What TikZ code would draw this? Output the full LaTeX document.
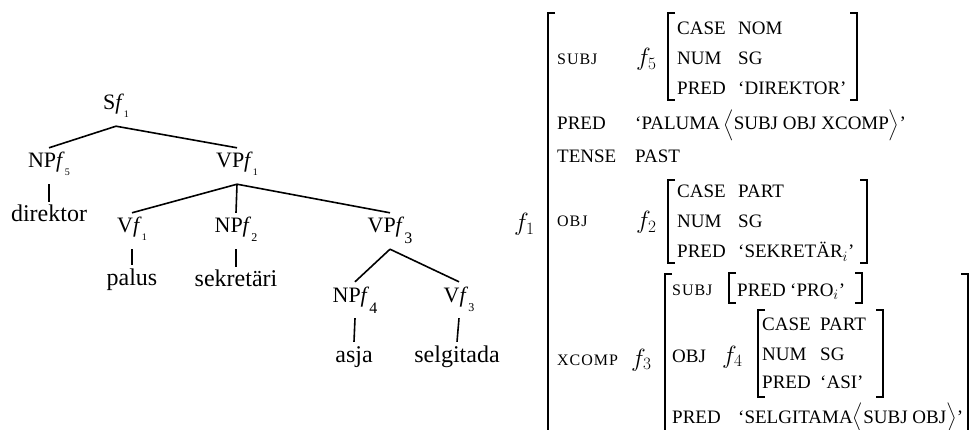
\documentclass[tikz,border=0pt]{standalone}
\usepackage{amsmath}
\usepackage[no-math]{fontspec}
\setmainfont{Liberation Serif}
\newfontfamily\attrfont[LetterSpace=6]{Liberation Serif}
\usepackage{tikz}

% f con pedice nell'albero: dimensione, abbassamento, cifra
\newcommand{\fn}[3]{\textit{f}{\fontsize{#1}{#1}\selectfont\raisebox{-#2pt}{#3}}}

\begin{document}
\begin{tikzpicture}[x=1pt,y=-1pt]
\tikzstyle{cat} = [font=\fontsize{22}{26}\selectfont, anchor=base, text height=16pt, text depth=12pt, inner ysep=4pt, inner xsep=0pt]
\tikzstyle{parola} = [font=\fontsize{24}{28}\selectfont, anchor=base, text height=16pt, text depth=4pt, inner ysep=4pt, inner xsep=0pt]
\tikzstyle{ramo} = [line width=1.6pt]
\tikzstyle{av} = [font=\fontsize{19}{23}\selectfont, anchor=base west, inner sep=0pt]
\tikzstyle{avs} = [font=\fontsize{16}{19}\attrfont, anchor=base west, inner sep=0pt]
\tikzstyle{fs} = [font=\fontsize{23}{27}\selectfont, anchor=base west, inner sep=0pt]
\tikzstyle{par} = [line width=1.1pt]

\useasboundingbox (0,0) rectangle (974,430);

% --- Albero ---------------------------------------------------------
\node[cat] (S)   at (116,110) {S\fn{10}{8}{1}};
\node[cat] (NP5) at (49,168)  {NP\fn{10}{8}{5}};
\node[cat] (VP1) at (237,168) {VP\fn{10}{8}{1}};
\node[cat] (V1)  at (132,233) {V\fn{10}{8}{1}};
\node[cat] (NP2) at (236,233) {NP\fn{12}{9}{2}};
\node[cat] (VP3) at (390,233) {VP\fn{16}{11}{3}};
\node[cat] (NP4) at (355,302) {NP\fn{16}{11}{4}};
\node[cat] (V3)  at (459,302) {V\fn{12}{9}{3}};

% parole
\node[parola] (w1) at (49,222)  {direktor};
\node[parola] (w2) at (132,285) {palus};
\node[parola] (w3) at (236,287) {sekretäri};
\node[parola] (w4) at (354,362) {asja};
\node[parola] (w5) at (457,362) {selgitada};

\foreach \a/\b in {S/NP5, S/VP1, VP1/V1, VP1/NP2, VP1/VP3, VP3/NP4, VP3/V3,
                   NP5/w1, V1/w2, NP2/w3, NP4/w4, V3/w5} {
  \draw[ramo] (\a.south) -- (\b.north);
}

% --- Struttura f ----------------------------------------------------
\node[fs] (f1) at (514,231) {$f_1$};

\node[avs] (a-subj)  at (557,65)  {SUBJ};
\node[av]  (a-pred)  at (557,130) {PRED};
\node[av]  (a-tense) at (557,163) {TENSE};
\node[avs] (a-obj)   at (557,227) {OBJ};
\node[avs] (a-xcomp) at (557,365) {XCOMP};

\node[fs] (f5) at (636,66)  {$f_5$};
\node[av] (v-pred)  at (635,130) {‘PALUMA\,$\Big\langle$SUBJ OBJ XCOMP$\Big\rangle$’};
\node[av] (v-tense) at (635,163) {PAST};
\node[fs] (f2) at (636,229) {$f_2$};
\node[fs] (f3) at (631,366) {$f_3$};

% f5
\foreach \r/\k/\v/\y in {1/CASE/NOM/35, 2/NUM/SG/65, 3/PRED/{‘DIREKTOR’}/95} {
  \node[av] (k5-\r) at (677,\y) {\k};
  \node[av] (v5-\r) at (738,\y) {\v};
}

% f2
\foreach \r/\k/\v/\y in {1/CASE/PART/198, 2/NUM/SG/228, 3/PRED/{‘SEKRETÄR$_i$’}/258} {
  \node[av] (k2-\r) at (677,\y) {\k};
  \node[av] (v2-\r) at (738,\y) {\v};
}

% f3
\node[avs] (x-subj)  at (672,295) {SUBJ};
\node[av]  (x-pred)  at (737,296) {PRED};
\node[av]  (x-pro)   at (790,296) {‘PRO$_i$’};
\node[av]  (x-obj)   at (672,362) {OBJ};
\node[fs]  (f4)      at (722,363) {$f_4$};
\node[av]  (x-pred2) at (672,423) {PRED};
\node[av]  (x-sel)   at (738,423) {‘SELGITAMA$\Big\langle$SUBJ OBJ$\Big\rangle$’};

% f4
\foreach \r/\k/\v/\y in {1/CASE/PART/330, 2/NUM/SG/360, 3/PRED/{‘ASI’}/388} {
  \node[av] (k4-\r) at (762,\y) {\k};
  \node[av] (v4-\r) at (820,\y) {\v};
}

% parentesi quadre: sinistra/destra/alto/basso
\draw[par] (555,13) -- (548,13) -- (548,440);
\foreach \xl/\xr/\yt/\yb in {668/857/13/100, 668/867/180/263, 665/968/274/440,
                            729/862/273/303, 758/883/310/397} {
  \draw[par] (\xl+7,\yt) -- (\xl,\yt) -- (\xl,\yb) -- (\xl+7,\yb);
  \draw[par] (\xr-7,\yt) -- (\xr,\yt) -- (\xr,\yb) -- (\xr-7,\yb);
}

\end{tikzpicture}
\end{document}
